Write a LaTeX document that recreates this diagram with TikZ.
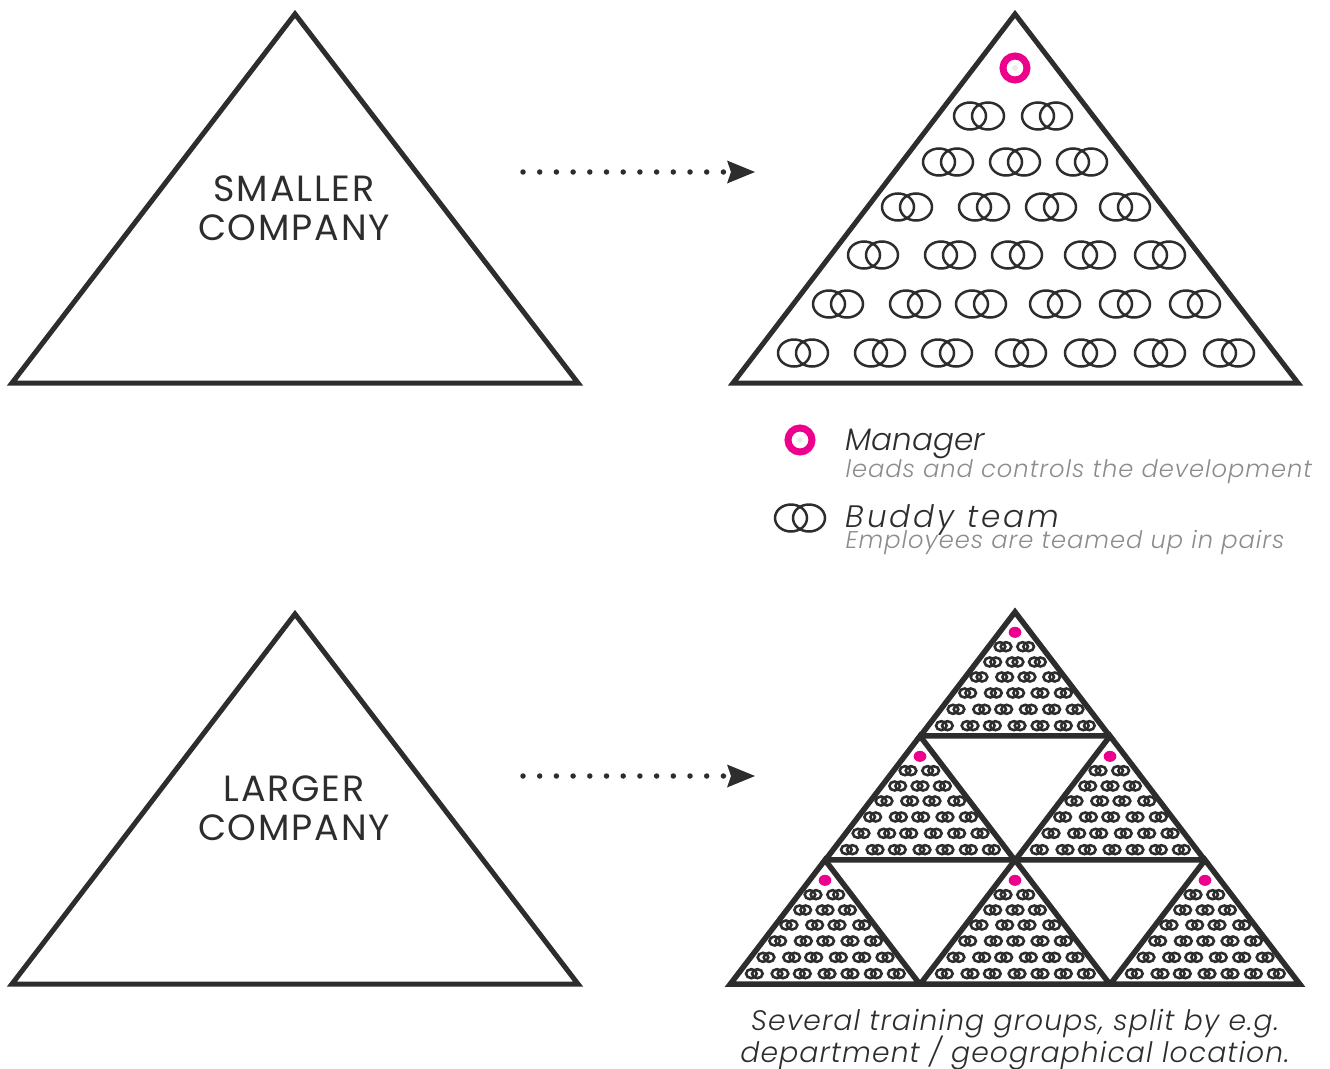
\documentclass[tikz,border=0pt]{standalone}
\usepackage{xcolor}
\usepackage{fontspec}
\setmainfont{Poppins Light}
\newfontfamily\headfont{Poppins}[LetterSpace=5]
\newfontfamily\itfont{Poppins Light Italic}
\newfontfamily\itwidefont{Poppins Light Italic}[LetterSpace=4]
\newfontfamily\itbuddyfont{Poppins Light Italic}[LetterSpace=10]
\usetikzlibrary{arrows.meta}
\definecolor{inkgray}{HTML}{2E2D2E}
\definecolor{subgray}{HTML}{8C8C8C}
\definecolor{mgrpink}{HTML}{EC008C}
\tikzset{
  pyramid/.style={draw=inkgray,line width=5pt,miter limit=10},
  smallpyramid/.style={draw=inkgray,line width=5.5pt,miter limit=10},
  dotarrow/.style={draw=inkgray,line width=5.5pt,line cap=round,dash pattern=on 0pt off 16.7pt,
    -{Stealth[length=28pt,width=23pt,inset=4pt,line width=0pt]}},
  headline/.style={font=\headfont\fontsize{36.5}{39}\selectfont,text=inkgray,align=center},
  legendtitle/.style={font=\itfont\fontsize{31}{36}\selectfont,text=inkgray,anchor=base west},
  legendtext/.style={font=\itwidefont\fontsize{24.2}{28}\selectfont,text=subgray,anchor=base west},
  captiontext/.style={font=\itwidefont\fontsize{28.2}{32}\selectfont,text=inkgray,align=center,inner sep=0pt},
}
% one pair of overlapping rings
\newcommand{\buddypair}[3]{%
  \draw[inkgray,line width=#3] (#1-9,#2) ellipse (16 and 13.5);
  \draw[inkgray,line width=#3] (#1+9,#2) ellipse (16 and 13.5);
}
% rows of pairs, measured from the apex of the group
\newcommand{\buddyrows}[1]{%
  \foreach \dy/\dxlist in {104/{-36,32},150/{-67,0,67},195/{-108,-31,36,110},
      243/{-142,-65,2,75,145},292/{-177,-100,-34,40,110,180},
      341/{-212,-135,-68,6,75,145,214}}{
    \foreach \dx in \dxlist {\buddypair{\dx}{\dy}{#1}}
  }
}
% small group: triangle, dot and pairs at a third of the size
\newcommand{\smallgroup}[2]{%
  \begin{scope}[shift={(#1,#2)},scale=0.3333]
    \buddyrows{2.6pt}
    \fill[mgrpink] (0,61) ellipse (19 and 16.5);
    \draw[smallpyramid] (0,0) -- (-284,372) -- (284,372) -- cycle;
  \end{scope}
}
\begin{document}
\begin{tikzpicture}[x=1pt,y=-1pt]
  \useasboundingbox (0,0) rectangle (1330,1068);
  % left column
  \draw[pyramid] (295,14) -- (12,383) -- (578,383) -- cycle;
  \draw[pyramid] (295,614) -- (12,984) -- (578,984) -- cycle;
  \node[headline] (small) at (294,208) {SMALLER\\COMPANY};
  \node[headline] (large) at (294,808) {LARGER\\COMPANY};
  % arrows
  \coordinate (arrowa1) at (523,172);
  \coordinate (arrowa2) at (755,172);
  \coordinate (arrowb1) at (523,776);
  \coordinate (arrowb2) at (755,776);
  \draw[dotarrow] (arrowa1) -- (arrowa2);
  \draw[dotarrow] (arrowb1) -- (arrowb2);
  % detailed pyramid
  \draw[pyramid] (1015,14) -- (733,383) -- (1298,383) -- cycle;
  \draw[mgrpink,line width=7pt] (1015,68) circle (12);
  \fill[black!8] (1015,68) circle (3);
  \begin{scope}[shift={(1015,12)}]
    \buddyrows{2.5pt}
  \end{scope}
  % legend
  \draw[mgrpink,line width=7pt] (800,440) circle (12);
  \fill[black!8] (800,440) circle (3);
  \buddypair{800}{518}{2.5pt}
  \node[legendtitle] (manager) at (842,450) {Manager};
  \node[legendtext] (managertext) at (842,477) {leads and controls the development};
  \node[legendtitle,font=\itbuddyfont\fontsize{31}{36}\selectfont] (buddy) at (842,527) {Buddy team};
  \node[legendtext] (buddytext) at (842,548) {Employees are teamed up in pairs};
  % six training groups
  \smallgroup{1015}{612}
  \smallgroup{920}{736}
  \smallgroup{1110}{736}
  \smallgroup{825}{860}
  \smallgroup{1015}{860}
  \smallgroup{1205}{860}
  \node[captiontext] (caption) at (1015,1040) {Several training groups, split by e.g.\\[-3pt]department / geographical location.};
\end{tikzpicture}
\end{document}
